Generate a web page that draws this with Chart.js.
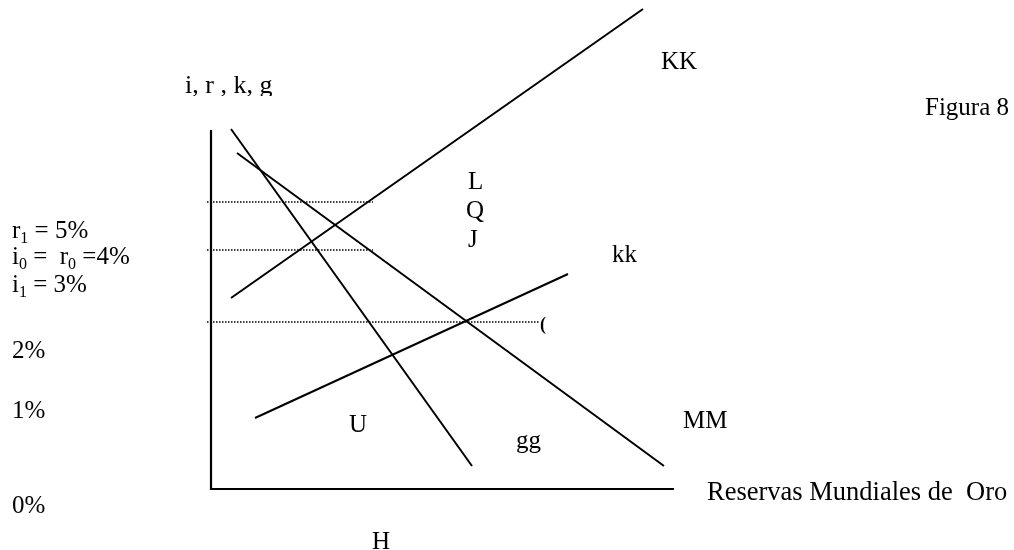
<!DOCTYPE html>
<html>
<head>
<meta charset="utf-8">
<script src="https://cdn.jsdelivr.net/npm/chart.js@4/dist/chart.umd.min.js"></script>
<style>
    body { margin: 0; background: #ffffff; }
    #contenedor { width: 1014px; height: 550px; }
</style>
</head>
<body>
<div id="contenedor"><canvas id="figuraChart" width="1014" height="550"></canvas></div>
<script>
// Curvas del diagrama (unidades arbitrarias, origen en la esquina de los ejes)
const ggX = [2.0, 26.1];
const ggY = [36.0, 2.3];
const mmX = [2.6, 45.3];
const mmY = [33.6, 2.3];
const kkX = [4.4, 35.7];
const kkY = [7.1, 21.5];
const KKX = [2.0, 43.2];
const KKY = [19.1, 48.0];

// Lineas punteadas de los tipos de interes
const punteadasY = [28.7, 23.9, 16.7];
const punteadasFin = [16.2, 16.2, 32.8];
const punteadasInicio = -0.4;

// Ejes
const ejeXFin = 46.3;
const ejeYFin = 35.9;

function puntos(xs, ys) {
    return xs.map((x, i) => ({ x: x, y: ys[i] }));
}

const datasets = [];
// ejes
datasets.push({ data: [{ x: 0, y: ejeYFin }, { x: 0, y: 0 }, { x: ejeXFin, y: 0 }], borderWidth: 2.2 });
// curvas
datasets.push({ data: puntos(ggX, ggY), borderWidth: 2 });
datasets.push({ data: puntos(mmX, mmY), borderWidth: 2 });
datasets.push({ data: puntos(kkX, kkY), borderWidth: 2 });
datasets.push({ data: puntos(KKX, KKY), borderWidth: 2 });
// punteadas
punteadasY.forEach((y, i) => {
    datasets.push({
        data: [{ x: punteadasInicio, y: y }, { x: punteadasFin[i], y: y }],
        borderWidth: 1.5,
        borderDash: [1.5, 1.5]
    });
});
datasets.forEach(d => {
    d.showLine = true;
    d.borderColor = '#000000';
    d.pointRadius = 0;
    d.fill = false;
});

const fuente = "'Liberation Serif', 'Times New Roman', serif";

// escribe texto con subindices: partes = [[texto, esSubindice], ...]
function escribir(ctx, partes, x, y, tam) {
    let cx = x;
    partes.forEach(p => {
        if (p[1]) {
            ctx.font = '16px ' + fuente;
            ctx.fillText(p[0], cx, y + 5);
        } else {
            ctx.font = (tam || 25) + 'px ' + fuente;
            ctx.fillText(p[0], cx, y);
        }
        cx += ctx.measureText(p[0]).width;
    });
}

const textosPlugin = {
    id: 'textos',
    afterDraw(chart) {
        const ctx = chart.ctx;
        ctx.save();
        ctx.fillStyle = '#000000';
        ctx.textBaseline = 'alphabetic';
        ctx.textAlign = 'left';

        // titulo del eje vertical (recortado abajo como en el original)
        ctx.save();
        ctx.beginPath();
        ctx.rect(0, 0, 400, 96);
        ctx.clip();
        escribir(ctx, [['i, r , k, g']], 185, 93, 26);
        ctx.restore();

        escribir(ctx, [['KK']], 661, 69);
        escribir(ctx, [['Figura 8']], 925, 115);
        escribir(ctx, [['L']], 468, 189);
        escribir(ctx, [['Q']], 466, 218);
        escribir(ctx, [['J']], 468, 247);
        escribir(ctx, [['kk']], 612, 262);

        ctx.font = 'bold 18px ' + fuente;
        ctx.fillText('(', 540, 330);

        escribir(ctx, [['r'], ['1', true], [' = 5%']], 12, 238);
        escribir(ctx, [['i'], ['0', true], [' =  r'], ['0', true], [' =4%']], 12, 264);
        escribir(ctx, [['i'], ['1', true], [' = 3%']], 12, 292);
        escribir(ctx, [['2%']], 12, 358);
        escribir(ctx, [['1%']], 12, 418);
        escribir(ctx, [['0%']], 12, 513);

        escribir(ctx, [['U']], 349, 432);
        escribir(ctx, [['gg']], 516, 448);
        escribir(ctx, [['MM']], 683, 428);
        escribir(ctx, [['Reservas Mundiales de  Oro']], 707, 500, 26.5);
        escribir(ctx, [['H']], 372, 549);
        ctx.restore();
    }
};

const ctxFigura = document.getElementById('figuraChart').getContext('2d');
new Chart(ctxFigura, {
    type: 'scatter',
    data: { datasets: datasets },
    options: {
        responsive: false,
        animation: false,
        layout: { padding: 0 },
        plugins: {
            legend: { display: false },
            tooltip: { enabled: false }
        },
        scales: {
            x: { type: 'linear', min: -21.1, max: 80.3, display: false },
            y: { type: 'linear', min: -6.1, max: 48.9, display: false }
        }
    },
    plugins: [textosPlugin]
});
</script>
</body>
</html>
